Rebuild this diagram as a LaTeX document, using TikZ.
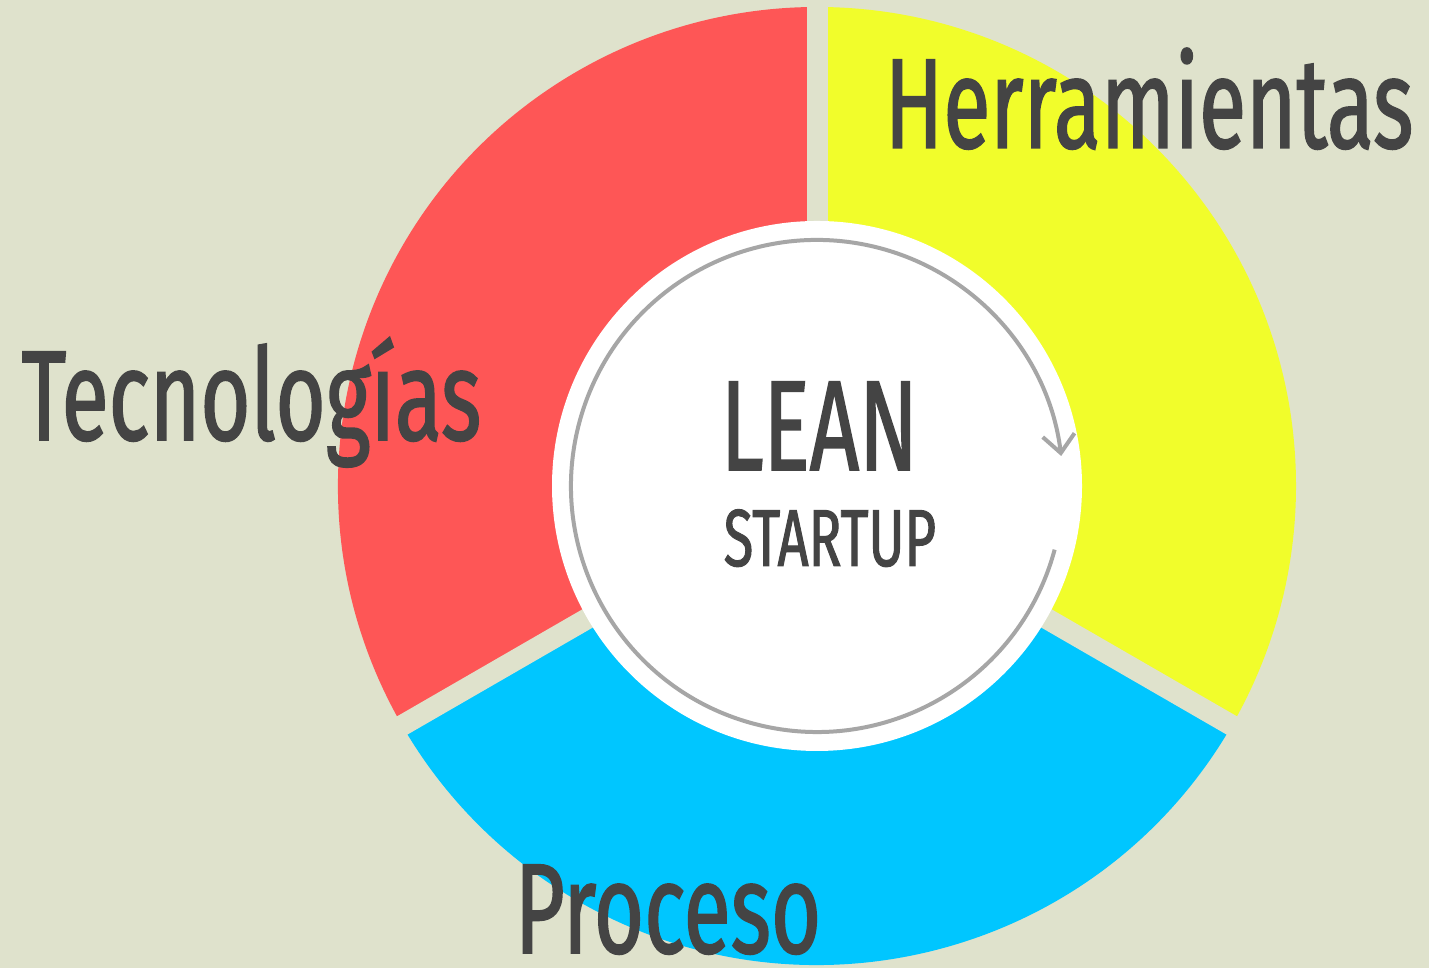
\documentclass[tikz,border=0pt]{standalone}
\usepackage{fontspec}
\setmainfont{Fira Sans}[FakeStretch=0.672, FakeBold=1.2]
\usetikzlibrary{arrows.meta}
\definecolor{bgtan}{HTML}{DFE2CC}
\definecolor{segred}{HTML}{FE5656}
\definecolor{segyellow}{HTML}{F1FD2B}
\definecolor{segblue}{HTML}{00C6FF}
\definecolor{txtgray}{HTML}{444444}
\definecolor{arcgray}{HTML}{A6A6A6}
\tikzset{
    labeltext/.style={text=txtgray, inner sep=0pt, anchor=base west},
    bigtext/.style={labeltext, font=\fontsize{36.5pt}{40pt}\selectfont},
}
\begin{document}
\begin{tikzpicture}
                \fill[bgtan] (0,0) rectangle (14.29,9.68);
                \useasboundingbox (0,0) rectangle (14.29,9.68);
                \coordinate (c) at (8.17,4.82);
                % the three segments
                \fill[segyellow] (c) -- ++(90:4.79) arc[start angle=90, end angle=-30, radius=4.79] -- cycle;
                \fill[segblue] (c) -- ++(-30:4.79) arc[start angle=-30, end angle=-150, radius=4.79] -- cycle;
                \fill[segred] (c) -- ++(210:4.79) arc[start angle=210, end angle=90, radius=4.79] -- cycle;
                \foreach \a in {90,210,330}
                    \draw[bgtan, line width=0.21cm] (c) -- ++(\a:4.85);
                \fill[white] (c) circle (2.65);
                \draw[arcgray, line width=0.04cm, -{Straight Barb[length=1.8mm, width=3.2mm]}]
                    (c) ++(-15:2.46) arc[start angle=-15, end angle=-353, radius=2.46];
                % labels
                \node[bigtext] (herramientas) at (8.84,8.20) {Herramientas};
                \node[bigtext] (tecnologias) at (0.21,5.28) {Tecnologías};
                \node[bigtext] (proceso) at (5.14,0.15) {Proceso};
                \node[bigtext] (lean) at (7.20,4.98) {LEAN};
                \node[labeltext, font=\fontsize{23pt}{28pt}\selectfont] (startup) at (7.23,4.02) {STARTUP};
            \end{tikzpicture}
\end{document}
